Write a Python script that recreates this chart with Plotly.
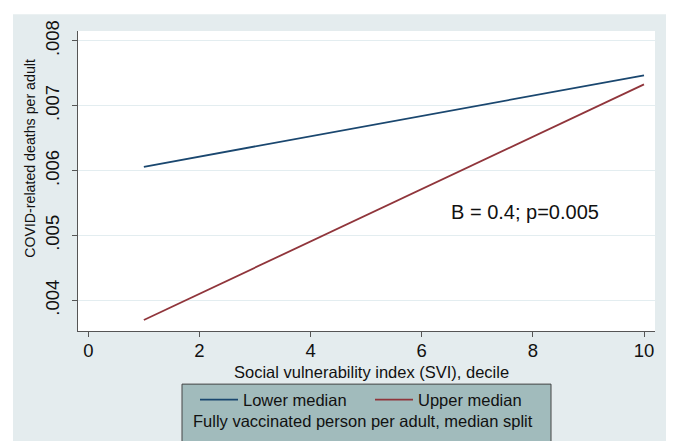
import plotly.graph_objects as go

# ---- data ----
svi_decile = [1, 10]
lower_median = [0.00606, 0.00747]
upper_median = [0.00370, 0.00733]
series_names = ["Lower median", "Upper median"]
y_tick_vals = [0.004, 0.005, 0.006, 0.007, 0.008]
y_tick_labels = [".004", ".005", ".006", ".007", ".008"]
x_tick_vals = [0, 2, 4, 6, 8, 10]
x_tick_labels = ["0", "2", "4", "6", "8", "10"]
annotation_text = "B = 0.4; p=0.005"
annotation_pos = (7.86, 0.005362)
legend_title = "Fully vaccinated person per adult, median split"
x_title = "Social vulnerability index (SVI), decile"
y_title = "COVID-related deaths per adult"

# ---- layout geometry (pixels, in page coordinates of the 674x441 window) ----
OFF = 8                      # page body margin that offsets the figure
WIN_W, WIN_H = 674, 441
W, H = WIN_W - OFF, WIN_H - OFF
PL, PR, PT, PB = 78, 655, 26, 331   # plot area edges in window pixels
ML, MR, MT, MB = PL - OFF, W - (PR - OFF), PT - OFF, H - (PB - OFF)
PW, PH = W - ML - MR, H - MT - MB


def px2x(px):
    return (px - OFF - ML) / PW


def px2y(py):
    return (PB - py) / PH


BG = "#E4ECEE"
LEG_BG = "#A1BBBC"
AX = "#555555"
FONT = "Arial, Liberation Sans, sans-serif"

fig = go.Figure()
fig.add_trace(go.Scatter(x=svi_decile, y=lower_median, mode="lines", name=series_names[0],
                         line=dict(color="#1A476F", width=1.8)))
fig.add_trace(go.Scatter(x=svi_decile, y=upper_median, mode="lines", name=series_names[1],
                         line=dict(color="#90353B", width=1.8)))

shapes = [
    # white strips around the light background
    dict(type="rect", xref="paper", yref="paper", x0=px2x(-20), x1=px2x(13), y0=px2y(WIN_H + 20), y1=px2y(-20),
         fillcolor="white", line_width=0, layer="below"),
    dict(type="rect", xref="paper", yref="paper", x0=px2x(668), x1=px2x(WIN_W + 20), y0=px2y(WIN_H + 20), y1=px2y(-20),
         fillcolor="white", line_width=0, layer="below"),
    dict(type="rect", xref="paper", yref="paper", x0=px2x(-20), x1=px2x(WIN_W + 20), y0=px2y(9), y1=px2y(-20),
         fillcolor="white", line_width=0, layer="below"),
    # legend box
    dict(type="rect", xref="paper", yref="paper", x0=px2x(182), x1=px2x(551), y0=px2y(WIN_H + 5), y1=px2y(385),
         fillcolor=LEG_BG, line=dict(color="#444444", width=1), layer="above"),
]

annotations = [
    dict(text=annotation_text, x=annotation_pos[0], y=annotation_pos[1], xref="x", yref="y",
         xanchor="center", yanchor="middle",
         showarrow=False, font=dict(size=20, color="#111111", family=FONT)),
    dict(text=x_title, x=px2x(371), y=px2y(373), xref="paper", yref="paper", showarrow=False,
         xanchor="center", yanchor="middle",
         font=dict(size=16.5, color="#111111", family=FONT)),
    dict(text=y_title, x=px2x(30), y=px2y(156), xref="paper", yref="paper", showarrow=False,
         xanchor="center", yanchor="middle",
         textangle=-90, font=dict(size=14.2, color="#111111", family=FONT)),
    dict(text=legend_title, x=px2x(363), y=px2y(423), xref="paper", yref="paper", showarrow=False,
         xanchor="center", yanchor="middle",
         font=dict(size=16.5, color="#111111", family=FONT)),
]

fig.update_layout(
    width=W, height=H,
    margin=dict(l=ML, r=MR, t=MT, b=MB, pad=0),
    paper_bgcolor=BG, plot_bgcolor="white",
    font=dict(family=FONT, color="#111111"),
    shapes=shapes,
    annotations=annotations,
    showlegend=True,
    legend=dict(orientation="h", x=px2x(195), y=px2y(401), xanchor="left", yanchor="middle",
                bgcolor="rgba(0,0,0,0)", borderwidth=0, font=dict(size=16.5, family=FONT, color="#111111"),
                itemwidth=38, entrywidth=122, entrywidthmode="pixels"),
    xaxis=dict(range=[-0.185, 10.198], tickvals=x_tick_vals, ticktext=x_tick_labels,
               showgrid=False, zeroline=False, showline=True, linecolor=AX, linewidth=1.3,
               ticks="outside", ticklen=5, tickcolor=AX, tickwidth=1.3, ticklabelstandoff=-2,
               tickfont=dict(size=18.5, family=FONT, color="#111111")),
    yaxis=dict(range=[0.00353, 0.008152], tickvals=y_tick_vals, ticktext=y_tick_labels,
               tickangle=-90, showgrid=True, gridcolor="#E3EDF0", gridwidth=1, zeroline=False,
               showline=True, linecolor=AX, linewidth=1.3, ticklabelstandoff=5,
               ticks="outside", ticklen=5, tickcolor=AX, tickwidth=1.3,
               tickfont=dict(size=18.5, family=FONT, color="#111111")),
)

fig.write_html("out.html")
